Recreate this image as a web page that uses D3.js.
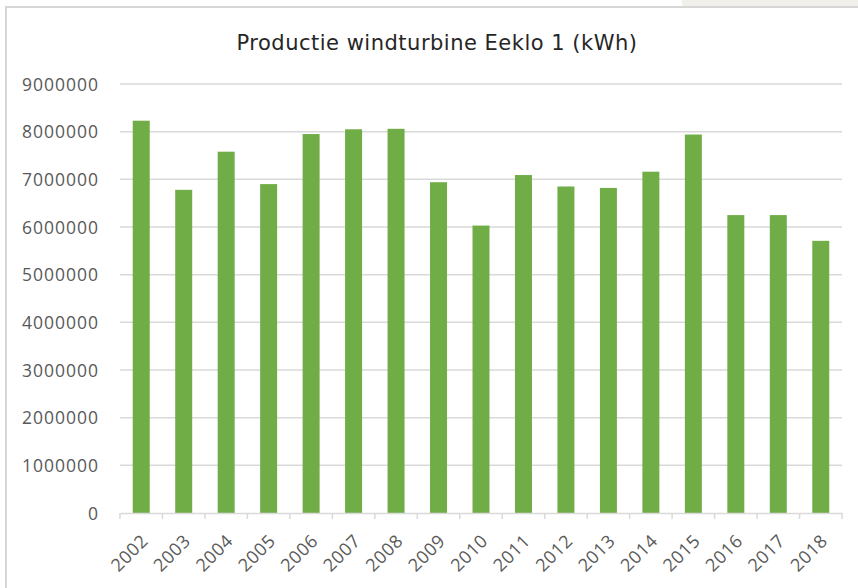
<!DOCTYPE html>
<html>
<head>
<meta charset="utf-8">
<script src="https://cdn.jsdelivr.net/npm/d3@7"></script>
<style>
    body { margin: 0; background: #fff; }
    svg { display: block; }
</style>
</head>
<body>
<svg id="chart"></svg>
<script>
const years = ['2002', '2003', '2004', '2005', '2006', '2007', '2008', '2009', '2010',
    '2011', '2012', '2013', '2014', '2015', '2016', '2017', '2018'];
const production = [8230000, 6780000, 7580000, 6900000, 7950000, 8050000, 8060000, 6940000, 6030000,
    7090000, 6850000, 6820000, 7160000, 7940000, 6250000, 6250000, 5710000];
const yTicks = [0, 1000000, 2000000, 3000000, 4000000, 5000000, 6000000, 7000000, 8000000, 9000000];

const w = 858, h = 588;
const margin = {left: 120, right: 16, top: 84, bottom: 75};

const chart = d3.select('#chart')
    .attr('width', w)
    .attr('height', h);

// frame like the screenshot
chart.append('rect').attr('x', 682).attr('y', 0).attr('width', w - 682).attr('height', 6).style('fill', '#f0efe9');
chart.append('rect').attr('x', 5).attr('y', 6).attr('width', w - 5).attr('height', 2).style('fill', '#d6d6d6');
chart.append('rect').attr('x', 5).attr('y', 6).attr('width', 2).attr('height', h - 6).style('fill', '#d6d6d6');

const xScale = d3.scaleBand()
    .domain(years)
    .range([margin.left, w - margin.right])
    .paddingInner(0.6)
    .paddingOuter(0.3);

const yScale = d3.scaleLinear()
    .domain([0, 9000000])
    .range([h - margin.bottom, margin.top]);

// gridlines
chart.append('g')
    .selectAll('line')
    .data(yTicks.filter(d => d > 0))
    .join('line')
    .attr('x1', margin.left)
    .attr('x2', w - margin.right)
    .attr('y1', d => yScale(d))
    .attr('y2', d => yScale(d))
    .style('stroke', '#d9d9d9')
    .style('stroke-width', 1.5);

// y labels
const yAxis = chart.append('g')
    .attr('transform', `translate(${margin.left - 18},0)`)
    .call(d3.axisLeft(yScale).tickValues(yTicks).tickSize(0).tickFormat(d3.format('d')));
yAxis.select('.domain').remove();
yAxis.selectAll('text')
    .attr('font-family', '"Open Sans", sans-serif')
    .attr('font-size', '17.5px')
    .attr('letter-spacing', '1px')
    .attr('dy', '0.35em')
    .style('fill', '#595959');

// bars
chart.append('g')
    .selectAll('rect')
    .data(production)
    .join('rect')
    .attr('x', (d, i) => xScale(years[i]))
    .attr('y', d => yScale(d))
    .attr('width', xScale.bandwidth())
    .attr('height', d => yScale(0) - yScale(d))
    .style('fill', '#70ad47');

// x axis
const step = xScale.step();
const gap = step - xScale.bandwidth();
const xAxis = chart.append('g')
    .attr('transform', `translate(0, ${yScale(0)})`)
    .call(d3.axisBottom(xScale).tickSize(0));
xAxis.select('.domain')
    .style('stroke', '#d9d9d9')
    .style('stroke-width', 1.5);
xAxis.selectAll('text')
    .attr('font-family', '"Open Sans", sans-serif')
    .attr('font-size', '18px')
    .attr('letter-spacing', '0.6px')
    .attr('text-anchor', 'end')
    .attr('transform', 'translate(-3, 18) rotate(-45)')
    .attr('dy', '0.7em')
    .style('fill', '#595959');

const boundaries = years.map(y => xScale(y) - gap / 2).concat([xScale(years[years.length - 1]) + xScale.bandwidth() + gap / 2]);
xAxis.selectAll('.bound')
    .data(boundaries)
    .join('line')
    .attr('class', 'bound')
    .attr('x1', d => d).attr('x2', d => d)
    .attr('y1', 0).attr('y2', 6)
    .style('stroke', '#d9d9d9')
    .style('stroke-width', 1.5);

// title
chart.append('text')
    .attr('x', 437)
    .attr('y', 50)
    .attr('text-anchor', 'middle')
    .attr('font-family', '"DejaVu Sans", sans-serif')
    .attr('font-size', '21px')
    .attr('letter-spacing', '0.5px')
    .style('fill', '#262626')
    .text('Productie windturbine Eeklo 1 (kWh)');
</script>
</body>
</html>
